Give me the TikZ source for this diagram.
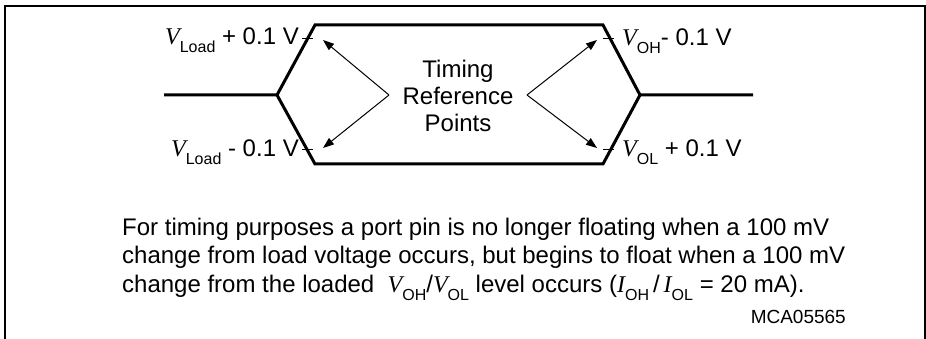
\documentclass[tikz,border=0pt]{standalone}
\usepackage{fontspec}
\setmainfont{Liberation Sans}
\newfontfamily\timesfont{Liberation Serif}
\usetikzlibrary{arrows.meta}
\newcommand{\sig}[2]{{\timesfont\itshape #1}\raisebox{-8pt}{\fontsize{16}{16}\selectfont #2}}
\tikzset{
  frame/.style    = {line width=2pt},
  wave/.style     = {line width=3pt, line join=miter},
  refmark/.style  = {line width=1pt},
  pointer/.style  = {-{Triangle[length=11pt,width=8pt]}, line width=1pt},
  levellabel/.style = {inner sep=0pt, font=\fontsize{24}{27}\selectfont},
  notetext/.style = {inner sep=0pt, align=left, font=\fontsize{24}{28.5}\selectfont},
}
\begin{document}
\begin{tikzpicture}[x=1pt, y=-1pt]
  \useasboundingbox (0,0) rectangle (926,339);

  % open frame
  \draw[frame] (4.5,339) -- (4.5,6) -- (925,6) -- (925,339);

  % waveform corners
  \coordinate (inL)   at (164,95);
  \coordinate (forkL) at (277,95);
  \coordinate (hiL)   at (315,25);
  \coordinate (loL)   at (315,164);
  \coordinate (hiR)   at (603,25);
  \coordinate (loR)   at (603,164);
  \coordinate (forkR) at (640,95);
  \coordinate (outR)  at (753,95);

  \draw[wave] (inL) -- (forkL) -- (hiL) -- (hiR) -- (forkR) -- (outR);
  \draw[wave] (forkL) -- (loL) -- (loR) -- (forkR);

  % reference marks on the edges
  \foreach \x/\y in {302/39, 302/150, 603/39, 603/150}
    \draw[refmark] (\x,\y) -- ++(11,0);

  % timing reference text and pointers
  \node[levellabel, align=center] (timing) at (458,96)
    {Timing\\Reference\\Points};

  \coordinate (apexL) at (389,95);
  \coordinate (apexR) at (527,95);
  \coordinate (tipUL) at (323,40);
  \coordinate (tipLL) at (323,148);
  \coordinate (tipUR) at (597,40);
  \coordinate (tipLR) at (597,148);

  \draw[pointer] (apexL) -- (tipUL);
  \draw[pointer] (apexL) -- (tipLL);
  \draw[pointer] (apexR) -- (tipUR);
  \draw[pointer] (apexR) -- (tipLR);

  % level labels
  \node[levellabel, anchor=base east] (loadhi) at (299,45)
    {\sig{V}{Load} + 0.1 V};
  \node[levellabel, anchor=base east] (loadlo) at (299,157)
    {\sig{V}{Load} - 0.1 V};
  \node[levellabel, anchor=base west] (ohlab) at (622,46)
    {\sig{V}{OH}- 0.1 V};
  \node[levellabel, anchor=base west] (ollab) at (622,157)
    {\sig{V}{OL} + 0.1 V};

  % explanation
  \node[notetext, anchor=north west] (note) at (122,217.5)
    {For timing purposes a port pin is no longer floating when a 100 mV\\
     change from load voltage occurs, but begins to float when a 100 mV\\
     change from the loaded\ \ \sig{V}{OH}/\sig{V}{OL} level occurs
     (\sig{I}{OH}\,/\,\sig{I}{OL} = 20 mA).};

  \node[inner sep=0pt, anchor=base east, font=\fontsize{19}{19}\selectfont]
    (figid) at (846,323) {MCA05565};
\end{tikzpicture}
\end{document}
